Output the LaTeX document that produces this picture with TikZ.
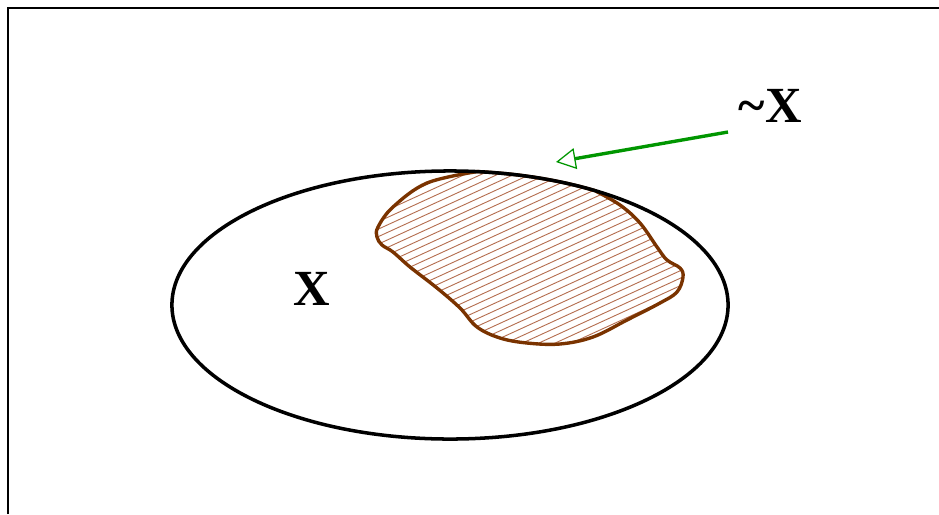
\documentclass[tikz,border=0pt]{standalone}
\usepackage{fontspec}
\newfontfamily\labelfont{Liberation Serif}
\usetikzlibrary{
    shapes.geometric,
    arrows.meta,
}
\definecolor{blobbrown}{RGB}{122,51,0}
\definecolor{hatchbrown}{RGB}{180,110,80}
\definecolor{arrowgreen}{RGB}{0,150,0}
\tikzset{
    frame/.style={line width=1.4pt},
    setshape/.style={ellipse, draw, line width=2.5pt, minimum width=13.9cm, minimum height=6.7cm, inner sep=0pt},
    setlabel/.style={font=\labelfont\bfseries\fontsize{36}{40}\selectfont, inner sep=0pt},
    complement/.style={draw=blobbrown, line width=2.4pt, line join=round},
    hatch/.style={draw=hatchbrown, line width=0.65pt},
    pointer/.style={draw=arrowgreen, line width=2.4pt, -{Triangle[open, length=14pt, width=15pt, line width=0.9pt]}},
}

\begin{document}
\begin{tikzpicture}[x=0.025cm, y=-0.025cm]
    \useasboundingbox (0,0) rectangle (939,514);
    \draw[frame] (8,514) -- (8,8) -- (939,8);

    % ===== COMPLEMENT REGION =====
    \path[save path=\blobpath] (477.1,171.6) arc[start angle=-84.4, end angle=-58.6, x radius=278, y radius=134]
        -- plot[smooth, tension=0.6] coordinates {(594.8,190.6) (620,205) (640,223) (657,247) (667,260) (680,268) (683,277) (677,292) (660,303) (627,320) (593,337) (560,344) (527,343) (500,338) (477,327) (460,308) (437,288) (410,267) (393,252) (382,245) (377,237) (378,227) (393,207) (427,183) (477.1,171.6)}
        -- cycle;
    \begin{scope}
        \clip[use path=\blobpath];
        \foreach \k in {0,...,45}
            \draw[hatch] (360,140+7.5*\k) -- ++(360,-165);
    \end{scope}
    \draw[complement, use path=\blobpath];

    % ===== SET =====
    \node[setshape] (setx) at (450,305) {};
    \node[setlabel] (xlabel) at (312,289) {X};

    \node[setlabel, anchor=south west, inner xsep=7.5pt, inner ysep=6.5pt] (notx) at (728,132) {\textasciitilde X};
    \coordinate (tip) at (556,162);

    \draw[pointer] (notx.south west) -- (tip);
\end{tikzpicture}
\end{document}
